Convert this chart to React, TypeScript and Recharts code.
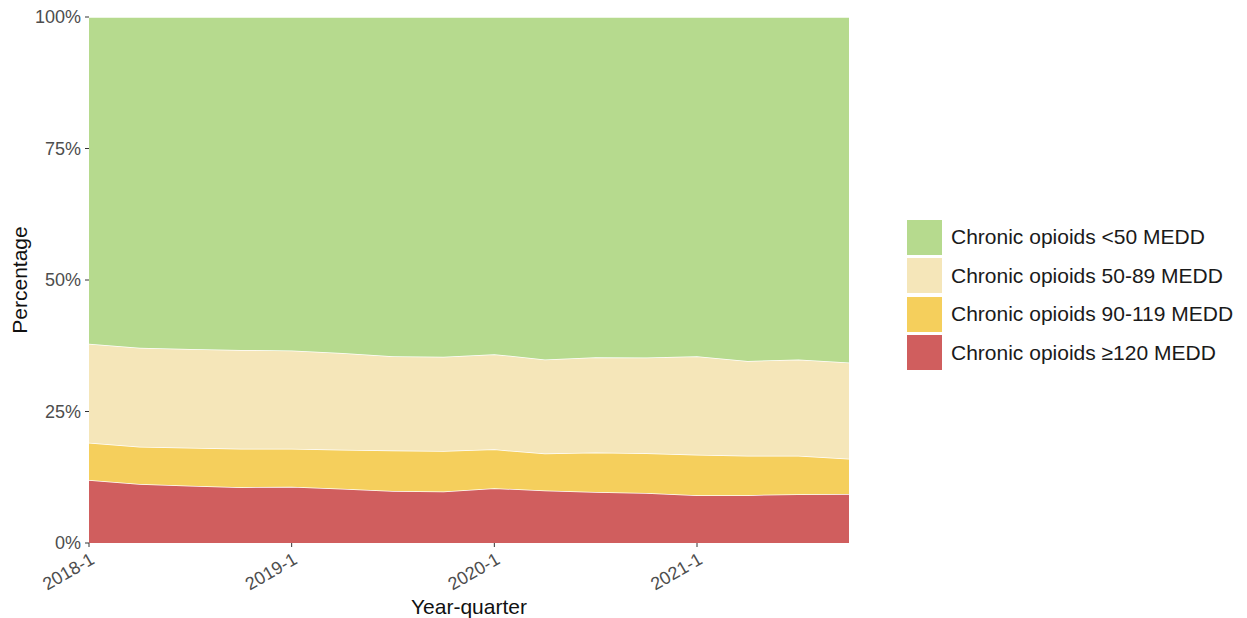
import React from 'react';
import { AreaChart, Area, XAxis, YAxis, CartesianGrid, Legend } from 'recharts';

const quarters = ['2018-1','2018-2','2018-3','2018-4','2019-1','2019-2','2019-3','2019-4','2020-1','2020-2','2020-3','2020-4','2021-1','2021-2','2021-3','2021-4'];
const lt50 = [62.2, 62.9, 63.1, 63.3, 63.4, 63.8, 64.5, 64.6, 64.1, 65.1, 64.7, 64.8, 64.5, 65.4, 65.2, 65.7];
const m50to89 = [18.8, 18.8, 18.8, 18.8, 18.7, 18.4, 17.9, 17.9, 18.1, 17.9, 18.1, 18.2, 18.7, 18.0, 18.3, 18.3];
const m90to119 = [7.1, 7.1, 7.2, 7.3, 7.2, 7.4, 7.7, 7.7, 7.4, 7.0, 7.5, 7.6, 7.7, 7.5, 7.3, 6.7];
const ge120 = [12.0, 11.2, 10.9, 10.6, 10.7, 10.3, 9.9, 9.8, 10.4, 10.0, 9.7, 9.5, 9.1, 9.1, 9.3, 9.3];

const seriesNames = ['Chronic opioids ≥120 MEDD', 'Chronic opioids 90-119 MEDD', 'Chronic opioids 50-89 MEDD', 'Chronic opioids <50 MEDD'];
const seriesKeys = ['ge120', 'm90to119', 'm50to89', 'lt50'];
const seriesColors = ['#d05e5e', '#f5cf5c', '#f5e6b9', '#b6da8e'];
const yTicks = [0, 0.25, 0.5, 0.75, 1];
const yTickLabels = ['0%', '25%', '50%', '75%', '100%'];

const data = quarters.map((q, i) => ({
  q,
  ge120: ge120[i],
  m90to119: m90to119[i],
  m50to89: m50to89[i],
  lt50: lt50[i],
}));

const FONT = '"Liberation Sans", Arial, Helvetica, sans-serif';

const XTick = (props: any) => {
  const { x, y, payload } = props;
  return (
    <g transform={`translate(${x},${y + 2})`}>
      <text
        textAnchor="end"
        transform="rotate(-30)"
        dy="0.75em"
        fill="#4d4d4d"
        fontSize={18}
        fontFamily={FONT}
      >
        {payload.value}
      </text>
    </g>
  );
};

const YTick = (props: any) => {
  const { x, y, payload } = props;
  const idx = yTicks.indexOf(payload.value);
  return (
    <text x={x} y={y} dy="0.35em" textAnchor="end" fill="#4d4d4d" fontSize={18} fontFamily={FONT}>
      {idx >= 0 ? yTickLabels[idx] : ''}
    </text>
  );
};

const LegendContent = () => {
  const order = [3, 2, 1, 0];
  return (
    <div style={{ fontFamily: FONT }}>
      {order.map((i) => (
        <div key={seriesKeys[i]} style={{ display: 'flex', alignItems: 'center', height: 38.5 }}>
          <div style={{ width: 35, height: 35, background: seriesColors[i], marginRight: 9 }} />
          <span style={{ fontSize: 21, color: '#1a1a1a' }}>{seriesNames[i]}</span>
        </div>
      ))}
    </div>
  );
};

export default function App() {
  return (
    <div style={{ position: 'absolute', left: 0, top: 0, width: 1247, height: 618, background: '#fff' }}>
      <AreaChart
        width={1247}
        height={618}
        data={data}
        stackOffset="expand"
        margin={{ top: 17, right: 58, bottom: 0, left: 0 }}
      >
        <XAxis
          dataKey="q"
          interval={3}
          tick={<XTick />}
          tickLine={{ stroke: '#333' }}
          tickSize={4}
          axisLine={false}
          height={75}
          label={{ value: 'Year-quarter', position: 'insideBottom', offset: 4, fill: '#111', fontSize: 21, fontFamily: FONT }}
        />
        <YAxis
          domain={[0, 1]}
          ticks={yTicks}
          tick={<YTick />}
          tickLine={{ stroke: '#333' }}
          tickSize={4}
          tickMargin={4}
          axisLine={false}
          width={89}
          label={{ value: 'Percentage', angle: -90, position: 'insideLeft', offset: 20, fill: '#111', fontSize: 21, fontFamily: FONT, style: { textAnchor: 'middle' } }}
        />
        {seriesKeys.map((k, i) => (
          <Area
            key={k}
            type="linear"
            dataKey={k}
            name={seriesNames[i]}
            stackId="1"
            fill={seriesColors[i]}
            fillOpacity={1}
            stroke="#ffffff"
            strokeWidth={1.5}
            isAnimationActive={false}
          />
        ))}
        <CartesianGrid
          stroke="#ffffff"
          strokeOpacity={0.25}
          horizontalValues={[0.125, 0.25, 0.375, 0.5, 0.625, 0.75, 0.875]}
          verticalValues={['2018-3', '2019-1', '2019-3', '2020-1', '2020-3', '2021-1', '2021-3']}
        />
        <Legend
          layout="vertical"
          align="right"
          verticalAlign="top"
          content={<LegendContent />}
          wrapperStyle={{ position: 'absolute', left: 907, top: 218, width: 340 }}
        />
      </AreaChart>
    </div>
  );
}
